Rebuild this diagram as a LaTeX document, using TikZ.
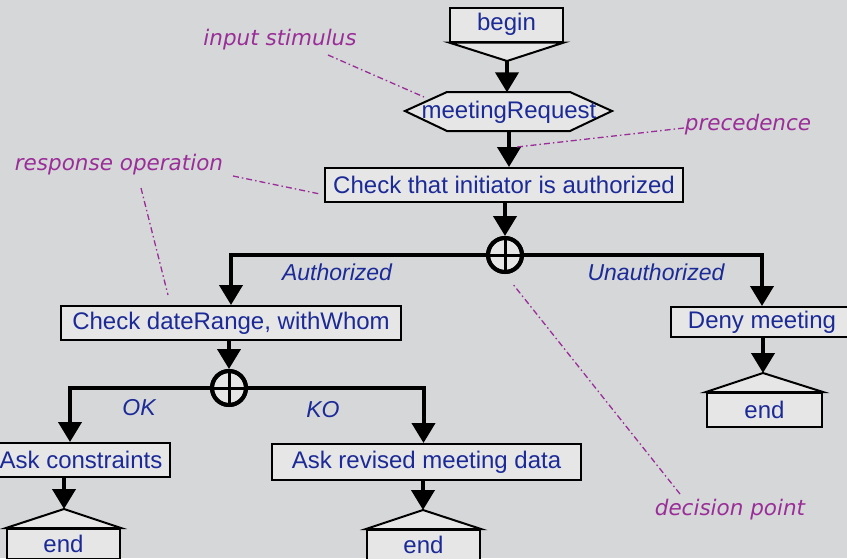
\documentclass[tikz,border=0pt]{standalone}
\usepackage{fontspec}
\setmainfont{Liberation Sans}
\newfontfamily\notefont{DejaVu Sans}
\usetikzlibrary{arrows.meta,calc}
\definecolor{bg}{HTML}{D6D7D9}
\definecolor{boxfill}{HTML}{E6E6E6}
\definecolor{txtblue}{HTML}{1B2A96}
\definecolor{notepurple}{HTML}{9A2E98}
\begin{document}
\begin{tikzpicture}[x=1pt,y=-1pt,
  txt/.style={text=txtblue,font=\fontsize{24}{28}\selectfont},
  box/.style={txt,draw=black,line width=2pt,fill=boxfill,inner sep=0pt},
  flow/.style={line width=4pt,line join=miter,-{Triangle[length=20pt,width=23pt]}},
  branch/.style={text=txtblue,font=\fontsize{23}{27}\selectfont\itshape},
  note/.style={text=notepurple,font=\notefont\fontsize{21.5}{25}\selectfont\itshape},
  noteline/.style={notepurple,line width=1.3pt,dash pattern=on 6pt off 3pt on 1.5pt off 3pt},
  decision/.style={circle,draw=black,line width=4pt,fill=boxfill,minimum size=34pt,inner sep=0pt},
  outline/.style={draw=black,line width=2pt,fill=boxfill,line join=miter}
]
% canvas
\fill[bg] (0,0) rectangle (847,558);
\useasboundingbox (0,0) rectangle (847,558);

% start: box with a downward pointer
\node[box,minimum width=113pt,minimum height=34pt] (begin) at (506.5,24.5) {begin};
\coordinate (beginTip) at (507,61);
\path[outline] (begin.south west) -- (begin.south east) -- (beginTip) -- cycle;

% input stimulus (hexagon)
\path[outline] (405,111) -- (447,92) -- (570,92) -- (612,111) -- (570,131) -- (447,131) -- cycle;
\node[txt,minimum height=39pt,minimum width=165pt,inner sep=0pt] (req) at (509,112) {meetingRequest};

% operations
\node[box,minimum width=358pt,minimum height=34pt] (chk) at (504,185) {Check that initiator is authorized};
\node[box,minimum width=340pt,minimum height=34pt] (dr) at (231,323) {Check dateRange, withWhom};
\node[box,minimum width=182pt,minimum height=30pt] (deny) at (762,322) {Deny meeting};
\node[box,minimum width=178pt,minimum height=34pt] (ac) at (81,460) {Ask constraints};
\node[box,minimum width=309pt,minimum height=36pt] (ar) at (426.5,462) {Ask revised meeting data};

% decision points
\node[decision] (dec1) at (505,255) {};
\node[decision] (dec2) at (229,388) {};

% end boxes with an upward roof
\node[box,minimum width=115pt,minimum height=34pt] (endD) at (764.5,410) {end};
\coordinate (endDTip) at (763,373);
\path[outline] (endD.north west) -- (endDTip) -- (endD.north east) -- cycle;
\node[box,minimum width=113pt,minimum height=30pt] (endA) at (63.5,544) {end};
\coordinate (endATip) at (64,509);
\path[outline] (endA.north west) -- (endATip) -- (endA.north east) -- cycle;
\node[box,minimum width=113pt,minimum height=30pt] (endR) at (423.5,545) {end};
\coordinate (endRTip) at (423,510);
\path[outline] (endR.north west) -- (endRTip) -- (endR.north east) -- cycle;

% precedence flow
\draw[flow] (beginTip) -- (beginTip |- req.north);
\draw[flow] (req.south) -- (req.south |- chk.north);
\draw[flow] (dec1.north |- chk.south) -- (dec1.north);
\draw[flow] (dec1.west) -| (dr.north);
\draw[flow] (dec1.east) -| (deny.north);
\draw[flow] (deny.south -| endDTip) -- (endDTip);
\draw[flow] (dec2.north |- dr.south) -- (dec2.north);
\draw[flow] (dec2.west) -| ([xshift=-11pt]ac.north);
\draw[flow] (dec2.east) -| ([xshift=-3pt]ar.north);
\draw[flow] (ac.south -| endATip) -- (endATip);
\draw[flow] (ar.south -| endRTip) -- (endRTip);

% crosses inside the decision circles
\foreach \d in {dec1,dec2}{
  \draw[line width=3pt] (\d.north) -- (\d.south) (\d.west) -- (\d.east);
  \draw[line width=4pt] (\d) circle (17pt);
}

% branch labels
\node[branch] (lAuth) at (337,272) {Authorized};
\node[branch] (lUnauth) at (656,272) {Unauthorized};
\node[branch] (lOK) at (139,408) {OK};
\node[branch] (lKO) at (323,410) {KO};

% annotations
\node[note] (nIn) at (280,40) {input stimulus};
\node[note] (nPrec) at (748,125) {precedence};
\node[note] (nResp) at (119,165) {response operation};
\node[note] (nDec) at (730,510) {decision point};

\coordinate (nInA) at (328,55);   \coordinate (nInB) at (424,97);
\coordinate (nPrecA) at (684,128); \coordinate (nPrecB) at (517,147);
\coordinate (nRespA) at (233,176); \coordinate (nRespB) at (320,194);
\coordinate (nRespC) at (141,188); \coordinate (nRespD) at (168,295);
\coordinate (nDecA) at (680,494);  \coordinate (nDecB) at (512,283);
\draw[noteline] (nInA) -- (nInB);
\draw[noteline] (nPrecA) -- (nPrecB);
\draw[noteline] (nRespA) -- (nRespB);
\draw[noteline] (nRespC) -- (nRespD);
\draw[noteline] (nDecA) -- (nDecB);
\end{tikzpicture}
\end{document}
